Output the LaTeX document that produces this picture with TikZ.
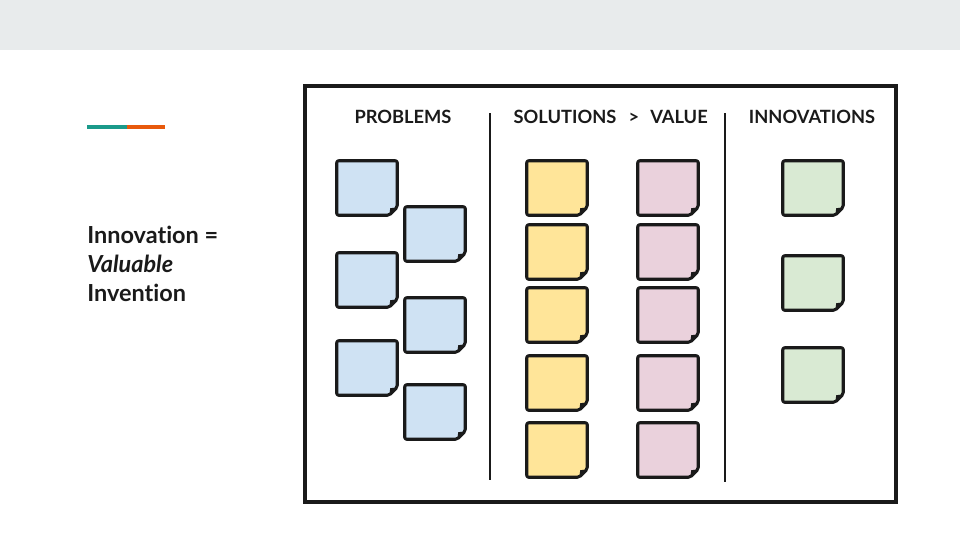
\documentclass[tikz,border=0pt]{standalone}
\usepackage{fontspec}
\setmainfont{Lato}[Ligatures=NoCommon]
\usetikzlibrary{calc}
\definecolor{ink}{HTML}{1A1A1A}
\definecolor{topbar}{HTML}{E8EBEC}
\definecolor{teal}{HTML}{1A9A8A}
\definecolor{orng}{HTML}{E8590C}
\definecolor{nblue}{HTML}{CFE2F3}
\definecolor{nyellow}{HTML}{FFE599}
\definecolor{npink}{HTML}{EAD1DC}
\definecolor{ngreen}{HTML}{D9EAD3}
\tikzset{
  notebox/.style={inner sep=0pt, minimum width=45pt, minimum height=40.5pt},
  noteline/.style={line width=2.3pt, draw=ink, rounded corners=1.5pt, line join=round},
  header/.style={font=\bfseries\fontsize{13.7}{16}\selectfont, text=ink, inner sep=0pt, anchor=base},
  divider/.style={line width=2.2pt, draw=ink},
  frame/.style={line width=2.4pt, draw=ink},
}
\newcommand\stickynote[4]{%
  \node[notebox] (#1) at ({#2+30},{#3+27}) {};
  \draw[noteline, fill=#4] (#1.north west) -- (#1.north east) -- ($(#1.south east)+(0,-8)$) -- ($(#1.south east)+(-8,0)$) -- (#1.south west) -- cycle;
  \fill[ink] ($(#1.south east)+(0,-8)$) -- ($(#1.south east)+(-8,0)$) -- ($(#1.south east)+(-7,-7)$) -- cycle;
}
\begin{document}
\begin{tikzpicture}[x=0.75pt,y=-0.75pt]
\useasboundingbox (0,0) rectangle (960,540);
\fill[topbar] (0,0) rectangle (960,50);
% accent
\coordinate (a0) at (87,127);
\coordinate (a1) at (127,127);
\coordinate (a2) at (165,127);
\draw[teal, line width=3pt] (a0) -- (a1);
\draw[orng, line width=3pt] (a1) -- (a2);
% title
\node[anchor=north west, align=left, inner sep=0pt, text=ink,
  font=\bfseries\fontsize{17.6}{21.75}\selectfont] (title) at (87,226)
  {Innovation =\\ \textit{Valuable}\\ Invention};
% frame
\node[frame, inner sep=0pt, minimum width=443.25pt, minimum height=312pt] (board) at (600.5,294) {};
\coordinate (d1t) at (490,113); \coordinate (d1b) at (490,480);
\coordinate (d2t) at (725,113); \coordinate (d2b) at (725,482);
\draw[divider] (d1t) -- (d1b);
\draw[divider] (d2t) -- (d2b);
% headers
\node[header] (hprob) at (403,123.5) {PROBLEMS};
\node[header] (hsol) at (565,123.5) {SOLUTIONS};
\node[header] (hgt) at (634,123.5) {>};
\node[header] (hval) at (679,123.5) {VALUE};
\node[header] (hinn) at (812,123.5) {INNOVATIONS};
% problems
\stickynote{b1}{337}{161}{nblue}
\stickynote{b2}{405}{207}{nblue}
\stickynote{b3}{337}{253}{nblue}
\stickynote{b4}{405}{298}{nblue}
\stickynote{b5}{337}{341}{nblue}
\stickynote{b6}{405}{385}{nblue}
% solutions
\stickynote{y1}{527}{161}{nyellow}
\stickynote{y2}{527}{225}{nyellow}
\stickynote{y3}{527}{288}{nyellow}
\stickynote{y4}{527}{356}{nyellow}
\stickynote{y5}{527}{423}{nyellow}
% value
\stickynote{v1}{638}{161}{npink}
\stickynote{v2}{638}{225}{npink}
\stickynote{v3}{638}{288}{npink}
\stickynote{v4}{638}{356}{npink}
\stickynote{v5}{638}{423}{npink}
% innovations
\stickynote{g1}{783}{161}{ngreen}
\stickynote{g2}{783}{256}{ngreen}
\stickynote{g3}{783}{348}{ngreen}
\end{tikzpicture}
\end{document}
